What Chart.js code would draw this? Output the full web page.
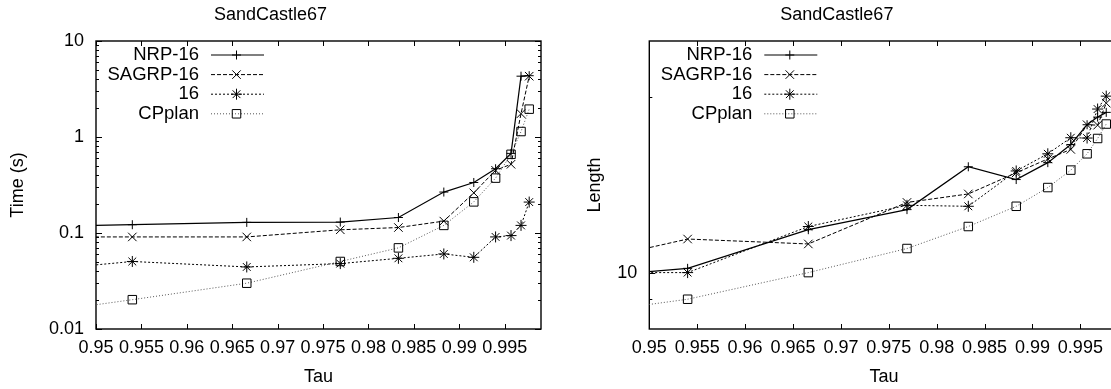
<!DOCTYPE html>
<html>
<head>
<meta charset="utf-8">
<script src="https://cdn.jsdelivr.net/npm/chart.js@4.4.0/dist/chart.umd.min.js"></script>
<style>
  html, body { margin:0; padding:0; background:#fff; width:1111px; height:389px; overflow:hidden; }
  .box { position:absolute; top:0; height:389px; }
  #box-time { left:0; width:555px; }
  #box-len  { left:555px; width:575px; }
</style>
</head>
<body>
<div class="box" id="box-time"><canvas id="chart-time"></canvas></div>
<div class="box" id="box-len"><canvas id="chart-len"></canvas></div>
<script>
/* ===== DATA ===== */
// first tau sits left of the axis (line runs in from the edge)
const TAU = [0.936, 0.954, 0.9666, 0.9769, 0.9833, 0.9883, 0.9916, 0.9940, 0.9957, 0.9968, 0.9977];
const SERIES = ['NRP-16', 'SAGRP-16', '16', 'CPplan'];

const TIME_NRP   = [0.113, 0.122, 0.129, 0.130, 0.145, 0.267, 0.336, 0.467, 0.675, 4.3, 4.35];
const TIME_SAGRP = [0.091, 0.091, 0.091, 0.108, 0.114, 0.133, 0.262, 0.45, 0.52, 1.75, 4.3];
const TIME_16    = [0.035, 0.0505, 0.0443, 0.048, 0.0545, 0.0605, 0.0558, 0.091, 0.094, 0.12, 0.21];
const TIME_CP    = [0.0117, 0.0202, 0.030, 0.0505, 0.070, 0.12, 0.211, 0.373, 0.66, 1.14, 1.95];

const LEN_NRP   = [9.6, 10.17, 11.85, 12.83, 15.2, 14.45, 15.45, 16.6, 17.95, 18.5, 18.85];
const LEN_SAGRP = [9.8, 11.42, 11.2, 13.2, 13.65, 14.84, 15.68, 16.28, 17.95, 17.92, 19.55];
const LEN_16    = [10.0, 10.0, 12.0, 13.05, 13.0, 14.95, 16.0, 17.05, 17.03, 19.1, 20.1];
const LEN_CP    = [8.2, 9.0, 10.0, 11.0, 12.0, 13.0, 14.0, 15.0, 16.0, 17.0, 18.0];

const X_TICKS = [0.95, 0.955, 0.96, 0.965, 0.97, 0.975, 0.98, 0.985, 0.99, 0.995];
const TIME_MAJOR = [0.01, 0.1, 1, 10];
const LEN_MAJOR = [10];
const LEN_MINOR = [9, 20];

/* ===== STYLE ===== */
const FONT = "'Liberation Sans', Arial, Helvetica, sans-serif";
Chart.defaults.font.family = FONT;
Chart.defaults.font.size = 18;
Chart.defaults.color = '#000';

const STYLES = [
  { pointStyle:'cross',    radius:4.5, dash:[],     line:'#000', width:1.2 },
  { pointStyle:'crossRot', radius:6,   dash:[4, 2], line:'#000', width:1 },
  { pointStyle:'star',     radius:5.5, dash:[2, 2], line:'#000', width:1 },
  { pointStyle:'rect',     radius:6,   dash:[1, 2], line:'#555', width:1 },
];

function timeMinor() {
  const out = [];
  [0.01, 0.1, 1].forEach(d => { for (let k = 2; k <= 9; k++) out.push(+(d * k).toPrecision(3)); });
  return out;
}

function makeDatasets(lists) {
  return lists.map((vals, i) => {
    const s = STYLES[i];
    return {
      label: SERIES[i],
      data: TAU.map((t, j) => ({ x: t, y: vals[j] })),
      borderColor: s.line, borderWidth: s.width, borderDash: s.dash,
      pointStyle: s.pointStyle, pointRadius: s.radius,
      pointBorderColor: '#000', pointBorderWidth: 1,
      pointBackgroundColor: 'rgba(0,0,0,0)',
      tension: 0, fill: false,
    };
  });
}

/* ===== PLUGINS ===== */
function seg(ctx, x1, y1, x2, y2) { ctx.beginPath(); ctx.moveTo(x1, y1); ctx.lineTo(x2, y2); ctx.stroke(); }

// gnuplot style box with inward ticks on all four sides
const framePlugin = {
  id: 'gnuFrame',
  beforeDatasetsDraw(chart) {
    const { ctx, chartArea: a, scales: { x, y } } = chart;
    ctx.save();
    ctx.strokeStyle = '#000';
    ctx.lineWidth = 1.4;
    ctx.strokeRect(a.left, a.top, a.right - a.left, a.bottom - a.top);
    ctx.lineWidth = 1;
    x.ticks.forEach(t => {
      const px = Math.round(x.getPixelForValue(t.value)) + 0.5;
      seg(ctx, px, a.bottom, px, a.bottom - 5);
      seg(ctx, px, a.top, px, a.top + 5);
    });
    y.ticks.forEach(t => {
      const py = Math.round(y.getPixelForValue(t.value)) + 0.5;
      const len = t.major ? 6 : 3;
      seg(ctx, a.left, py, a.left + len, py);
      seg(ctx, a.right, py, a.right - len, py);
    });
    ctx.restore();
  }
};

// key in the top-left corner: right-aligned text, sample line to its right
const keyPlugin = {
  id: 'gnuKey',
  afterDatasetsDraw(chart) {
    const { ctx, chartArea: a } = chart;
    ctx.save();
    ctx.font = '18.5px ' + FONT;
    ctx.textAlign = 'right';
    ctx.textBaseline = 'middle';
    chart.data.datasets.forEach((ds, i) => {
      const yy = a.top + 14 + i * 19.6;
      ctx.fillStyle = '#000';
      ctx.fillText(ds.label, a.left + 103, yy);
      ctx.strokeStyle = ds.borderColor;
      ctx.lineWidth = ds.borderWidth;
      ctx.setLineDash(ds.borderDash);
      seg(ctx, a.left + 115, yy, a.left + 168, yy);
      ctx.setLineDash([]);
      ctx.strokeStyle = '#000';
      ctx.fillStyle = 'rgba(0,0,0,0)';
      ctx.lineWidth = 1;
      Chart.helpers.drawPoint(ctx, { pointStyle: ds.pointStyle, radius: ds.pointRadius, rotation: 0, borderWidth: 1 }, a.left + 140.5, yy);
    });
    ctx.restore();
  }
};

/* ===== CHARTS ===== */
function makeChart(id, cfg) {
  return new Chart(document.getElementById(id), {
    type: 'line',
    data: { datasets: makeDatasets(cfg.lists) },
    plugins: [framePlugin, keyPlugin],
    options: {
      responsive: true, maintainAspectRatio: false, animation: false,
      layout: { padding: { left: 0, right: cfg.padRight, top: 0, bottom: 0 } },
      plugins: {
        legend: { display: false }, tooltip: { enabled: false },
        title: { display: true, text: 'SandCastle67', font: { size: 18, weight: 'normal' }, padding: { top: 4.5, bottom: 14.9 } },
      },
      scales: {
        x: {
          type: 'linear', min: 0.95, max: 0.999,
          grid: { display: false, drawTicks: false }, border: { display: false },
          afterBuildTicks: s => { s.ticks = X_TICKS.map(v => ({ value: v })); },
          afterFit: s => { s.height = 60; },
          ticks: { autoSkip: false, maxRotation: 0, minRotation: 0, padding: 8, callback: v => String(+v.toFixed(3)) },
          title: { display: true, text: 'Tau', padding: { top: 0, bottom: 1 } },
        },
        y: {
          type: 'logarithmic', min: cfg.yMin, max: cfg.yMax,
          grid: { display: false, drawTicks: false }, border: { display: false },
          afterBuildTicks: s => {
            s.ticks = cfg.major.map(v => ({ value: v, major: true }))
              .concat(cfg.minor.map(v => ({ value: v, major: false })))
              .sort((p, q) => p.value - q.value);
          },
          afterFit: s => { s.width = cfg.yWidth; },
          ticks: { autoSkip: false, padding: 12, callback: v => (cfg.major.includes(v) ? String(v) : '') },
          title: { display: true, text: cfg.yTitle, padding: { top: cfg.titlePad, bottom: 0 } },
        },
      },
    },
  });
}

document.addEventListener('DOMContentLoaded', () => {
  makeChart('chart-time', {
    lists: [TIME_NRP, TIME_SAGRP, TIME_16, TIME_CP],
    yMin: 0.01, yMax: 10, major: TIME_MAJOR, minor: timeMinor(),
    yWidth: 96, padRight: 14, yTitle: 'Time (s)', titlePad: 7,
  });
  makeChart('chart-len', {
    lists: [LEN_NRP, LEN_SAGRP, LEN_16, LEN_CP],
    yMin: 8, yMax: 25, major: LEN_MAJOR, minor: LEN_MINOR,
    yWidth: 94.3, padRight: 11.3, yTitle: 'Length', titlePad: 29,
  });
});
</script>
</body>
</html>
